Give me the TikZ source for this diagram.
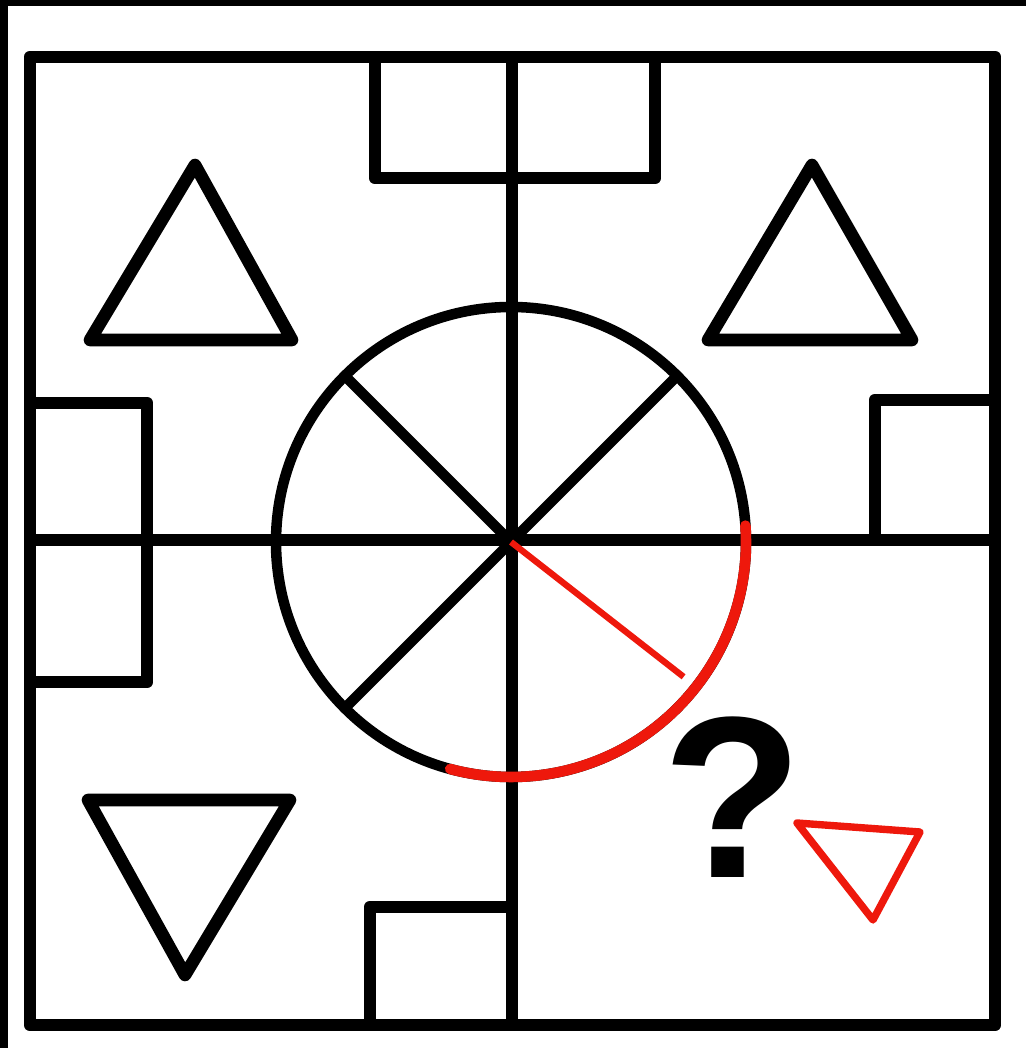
\documentclass[tikz,border=0pt]{standalone}
\usepackage{fontspec}
\setsansfont{Liberation Sans}
\definecolor{markred}{RGB}{238,24,12}

\begin{document}
\begin{tikzpicture}[x=0.02cm,y=0.02cm,line join=round]
\useasboundingbox (0,0) rectangle (1026,1048);
\fill (0,1042) rectangle (1026,1048);
\fill (0,0) rectangle (8,1048);
\draw[line width=7.2pt] (30,23) rectangle (995,991);
\draw[line width=7.2pt] (512,23) -- (512,991);
\draw[line width=7.2pt] (30,508) -- (995,508);
\draw[line width=7.2pt] (375,991) -- (375,870) -- (655,870) -- (655,991);
\draw[line width=7.2pt] (30,645) -- (147,645) -- (147,366) -- (30,366);
\draw[line width=7.2pt] (995,648) -- (875,648) -- (875,508);
\draw[line width=7.2pt] (370,23) -- (370,141) -- (512,141);
\draw[line width=7.2pt] (195,883) -- (90,708) -- (292,708) -- cycle;
\draw[line width=7.2pt] (812,883) -- (708,708) -- (912,708) -- cycle;
\draw[line width=7.2pt] (88,248) -- (290,248) -- (185,73) -- cycle;
\coordinate (hub) at (511,506);
\draw[line width=6pt] (hub) circle (235);
\foreach \a in {45,135,225}
  \draw[line width=6pt] (hub) -- +(\a:235);
\draw[markred,line width=6pt,line cap=round] (hub) ++(4:235) arc (4:-105:235);
\draw[markred,line width=3.6pt] (hub) -- +(-38:219);
\draw[markred,line width=4.2pt] (797,225) -- (920,216) -- (873,128) -- cycle;
\node (qmark) at (733,251) {\fontsize{131}{131}\selectfont\sffamily\bfseries ?};
\end{tikzpicture}
\end{document}
